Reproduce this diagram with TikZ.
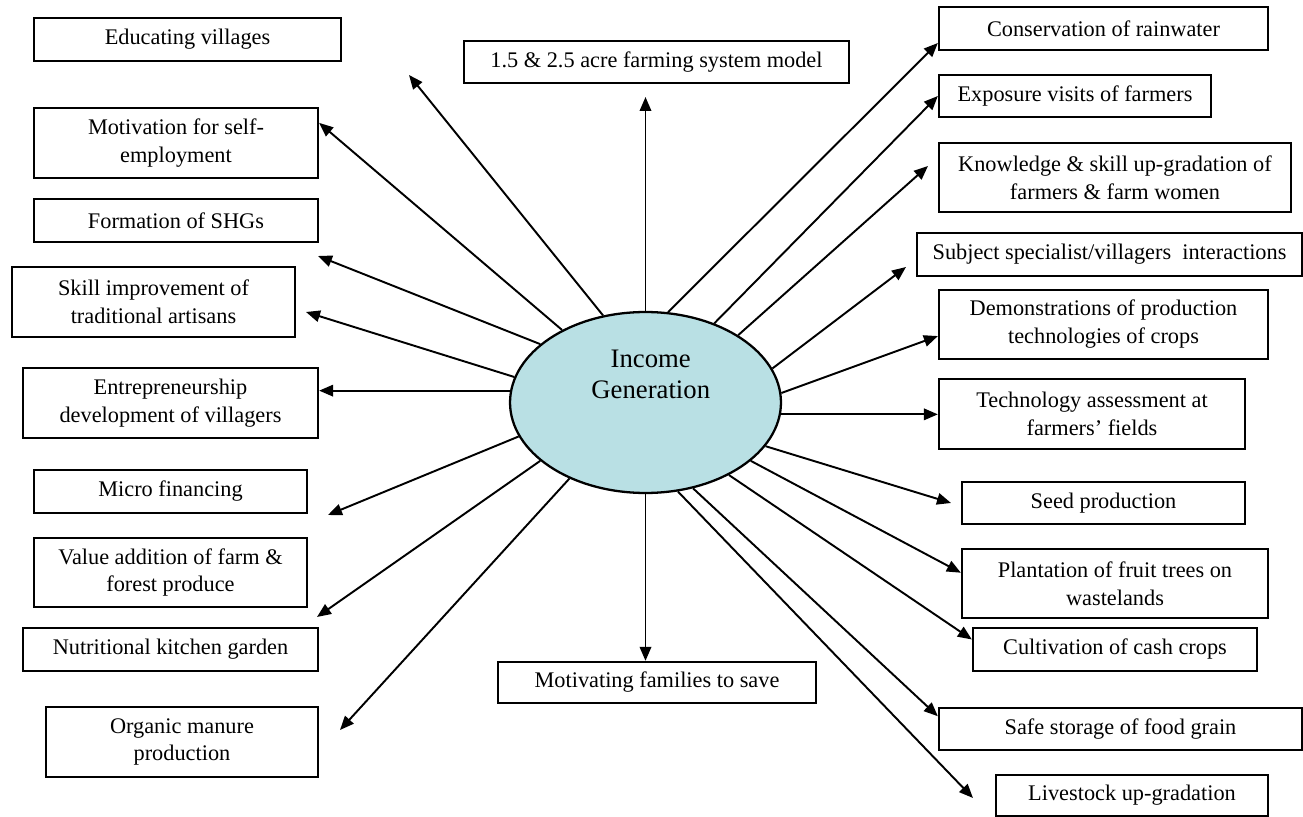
\documentclass[tikz,border=0pt]{standalone}
\usepackage{fontspec}
\setmainfont{Liberation Serif}
\usetikzlibrary{arrows.meta, shapes.geometric}
\definecolor{hubblue}{RGB}{185,224,228}

\begin{document}
\begin{tikzpicture}[x=0.02cm, y=-0.02cm, >={Triangle[length=2.8mm, width=2.3mm]},
  box/.style 2 args={draw, line width=1.3pt, rectangle, align=center,
    minimum width=#1*0.02cm, minimum height=#2*0.02cm, inner sep=1pt,
    font=\fontsize{12.7}{15.9}\selectfont},
  hub/.style={draw, line width=1.3pt, ellipse, fill=hubblue,
    minimum width=5.42cm, minimum height=3.62cm, inner sep=0pt},
  link/.style={->, line width=1.1pt}]

\useasboundingbox (0,0) rectangle (1303,817);

% Central ellipse
\node[hub, label={[align=center, font=\fontsize{15.2}{17.6}\selectfont, xshift=3pt, yshift=16pt]center:{Income\\Generation}}] (IG) at (645.5,402.5) {};

% Boxes on the left
\node[box={307}{43}] (edu) at (187.5,39.5) {Educating villages};
\node[box={284}{70}] (mot) at (176,143) {Motivation for self-\\employment};
\node[box={284}{43}] (shg) at (176,220.5) {Formation of SHGs};
\node[box={283}{70}] (skill) at (153.5,302) {Skill improvement of\\traditional artisans};
\node[box={295}{70}] (ent) at (170.5,403) {Entrepreneurship\\development of villagers};
\node[box={273}{43}] (micro) at (170.5,491.5) {Micro financing};
\node[box={273}{69}] (value) at (170.5,572.5) {Value addition of farm \&\\forest produce};
\node[box={295}{43}] (kitchen) at (170.5,649.5) {Nutritional kitchen garden};
\node[box={272}{70}] (organic) at (182,742) {Organic manure\\production};

% Boxes above and below
\node[box={385}{42}] (farm) at (656.5,62) {1.5 \& 2.5 acre farming system model};
\node[box={318}{41}] (save) at (657,682.5) {Motivating families to save};

% Boxes on the right
\node[box={329}{43}] (cons) at (1103.5,28.5) {Conservation of rainwater};
\node[box={272}{42}] (expo) at (1075,96) {Exposure visits of farmers};
\node[box={352}{69}] (know) at (1115,177.5) {Knowledge \& skill up-gradation of\\farmers \& farm women};
\node[box={385}{43}] (subj) at (1109.5,254.5) {Subject specialist/villagers\ \ interactions};
\node[box={329}{69}] (demo) at (1103.5,324.5) {Demonstrations of production\\technologies of crops};
\node[box={306}{70}] (tech) at (1092,414) {Technology assessment at\\farmers’ fields};
\node[box={283}{42}] (seed) at (1103.5,503) {Seed production};
\node[box={306}{69}] (plant) at (1115,583.5) {Plantation of fruit trees on\\wastelands};
\node[box={284}{43}] (cash) at (1115,649.5) {Cultivation of cash crops};
\node[box={363}{42}] (safe) at (1120.5,729) {Safe storage of food grain};
\node[box={272}{41}] (live) at (1132,795.5) {Livestock up-gradation};

% Free arrow tips (not touching a box)
\coordinate (t-edu) at (409,75);
\coordinate (t-shg) at (318,256);
\coordinate (t-skill) at (306,312);
\coordinate (t-micro) at (328,515);
\coordinate (t-value) at (317,617);
\coordinate (t-organic) at (340,730);
\coordinate (t-farm) at (645.5,97);
\coordinate (t-know) at (928,166);
\coordinate (t-subj) at (906,267);
\coordinate (t-seed) at (951,503);
\coordinate (t-live) at (973,798);

% Arrows to the left
\draw[link] (IG.116.6) -- (t-edu);
\draw[link] (IG.139.3) -- (mot.8.8);
\draw[link] (IG.151.2) -- (t-shg);
\draw[link] (IG.169.9) -- (t-skill);
\draw[link] (IG.175) -- (IG.175 -| ent.east);
\draw[link] (IG.195.9) -- (t-micro);
\draw[link] (IG.209.2) -- (t-value);
\draw[link] (IG.225.7) -- (t-organic);

% Arrows up and down
\draw[link] (IG.north) -- (t-farm);
\draw[link] (IG.south) -- (IG.south |- save.north);

% Arrows to the right
\draw[link] (IG.76.3) -- (cons.185);
\draw[link] (IG.49.3) -- (expo.west);
\draw[link] (IG.36.9) -- (t-know);
\draw[link] (IG.15.8) -- (t-subj);
\draw[link] (IG.4.6) -- (demo.184);
\draw[link] (IG.355) -- (IG.355 -| tech.west);
\draw[link] (IG.340.2) -- (t-seed);
\draw[link] (IG.331) -- (plant.176);
\draw[link] (IG.319.2) -- (cash.176);
\draw[link] (IG.299.4) -- (safe.176);
\draw[link] (IG.290.5) -- (t-live);

\end{tikzpicture}
\end{document}
